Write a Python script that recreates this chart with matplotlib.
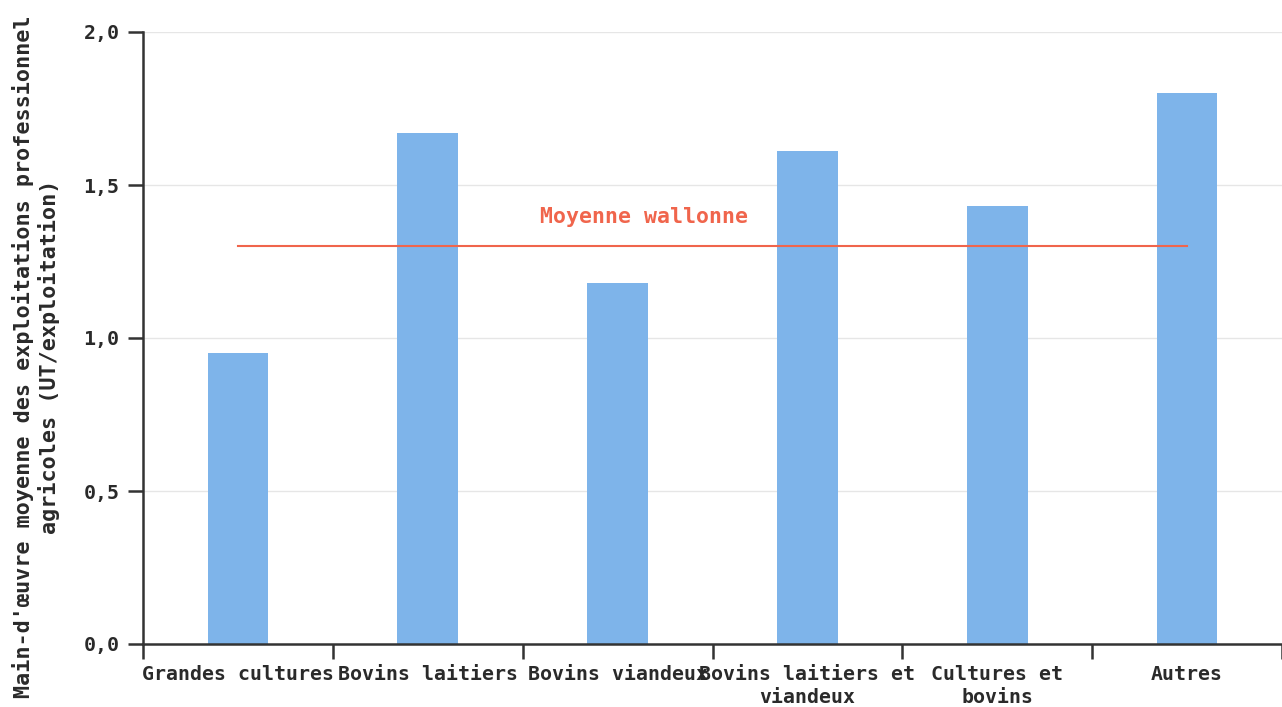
"""
Main-d'oeuvre moyenne par orientation technico-economique (Wallonie)
"""
#------------------------------------------------------------------------------
# Libraries
#------------------------------------------------------------------------------

import numpy as np
import matplotlib
matplotlib.use("Agg")
import matplotlib.pyplot as plt

#------------------------------------------------------------------------------
# Data
#------------------------------------------------------------------------------

categories = ["Grandes cultures", "Bovins laitiers", "Bovins viandeux",
              "Bovins laitiers et\nviandeux", "Cultures et\nbovins", "Autres"]
values = [0.95, 1.67, 1.18, 1.61, 1.43, 1.80]
mean_wallonne = 1.30
y_ticks = [0.0, 0.5, 1.0, 1.5, 2.0]
y_tick_labels = ["0,0", "0,5", "1,0", "1,5", "2,0"]

#------------------------------------------------------------------------------
# Figure
#------------------------------------------------------------------------------

plt.rcParams['font.family'] = ['DejaVu Sans Mono']
plt.rcParams['font.weight'] = 'bold'

W, H = 1282, 707
fig = plt.figure(figsize=(W / 100, H / 100), dpi=100)
x0, y0, y1 = 143, 644, 32
band = 191.0
ax = fig.add_axes([x0 / W, 1 - y0 / H, 1 - x0 / W, (y0 - y1) / H])

n = len(categories)
centers = np.arange(n) + 0.5
ax.bar(centers, values, width=0.32, color="#7EB4EA", zorder=2)

ax.plot([centers[0], centers[-1]], [mean_wallonne, mean_wallonne],
        color="#F0654C", lw=1.5, zorder=3)
ax.text(2.64, mean_wallonne + 0.095, "Moyenne wallonne", color="#F0654C",
        fontsize=15.5, fontweight="bold", ha="center", va="center")

ax.set_xlim(0, (W - x0) / band)
ax.set_ylim(0, 2.0)

# band-edge ticks, labels at band centres
ax.set_xticks(np.arange(n + 1))
ax.set_xticklabels([])
ax.set_xticks(centers, minor=True)
ax.set_xticklabels(categories, minor=True, fontsize=14.3, fontweight="bold",
                   color="#2a2a2a", linespacing=1.25)
ax.tick_params(axis="x", which="major", length=11, width=1.8, color="#333333")
ax.tick_params(axis="x", which="minor", length=0, pad=15)

ax.set_yticks(y_ticks)
ax.set_yticklabels(y_tick_labels, fontsize=14.3, fontweight="bold", color="#2a2a2a")
ax.tick_params(axis="y", length=11, width=1.8, color="#333333", pad=6)

for y in y_ticks[1:]:
    ax.axhline(y, color="#e6e6e6", lw=1, zorder=0)

for side in ["top", "right"]:
    ax.spines[side].set_visible(False)
for side in ["left", "bottom"]:
    ax.spines[side].set_linewidth(1.8)
    ax.spines[side].set_color("#333333")

fig.text(36 / W, 1 - 357 / H,
         "Main-d'œuvre moyenne des exploitations professionnel\nagricoles (UT/exploitation)",
         rotation=90, ha="center", va="center", fontsize=15.7,
         fontweight="bold", color="#2a2a2a", linespacing=1.25)

fig.savefig("out.png", dpi=100)
